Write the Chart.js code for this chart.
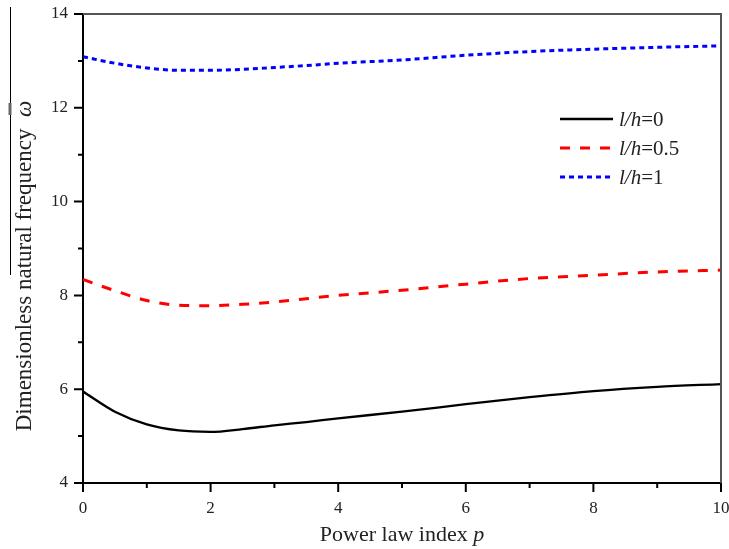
<!DOCTYPE html>
<html>
<head>
<meta charset="utf-8">
<script src="https://cdn.jsdelivr.net/npm/chart.js@4.4.0/dist/chart.umd.min.js"></script>
<style>
  html, body { margin: 0; padding: 0; background: #fff; }
  #wrap { width: 729px; height: 549px; position: relative; }
</style>
</head>
<body>
<div id="wrap"><canvas id="freqChart"></canvas></div>
<script>
// power law index p
const powerIndex = [0, 0.5, 1, 1.5, 2, 2.5, 3, 3.5, 4, 5, 6, 7, 8, 9, 10];

// dimensionless natural frequency for each l/h
const freqLh0 = [5.95, 5.52, 5.25, 5.12, 5.09, 5.15, 5.23, 5.30, 5.38, 5.52, 5.68, 5.83, 5.96, 6.05, 6.11];
const freqLh05 = [8.34, 8.10, 7.89, 7.79, 7.78, 7.81, 7.86, 7.93, 8.00, 8.11, 8.24, 8.36, 8.43, 8.50, 8.54];
const freqLh1 = [13.09, 12.95, 12.85, 12.80, 12.80, 12.82, 12.86, 12.90, 12.95, 13.02, 13.12, 13.20, 13.25, 13.29, 13.32];

const seriesLabels = ['0', '0.5', '1'];
const xTicks = [0, 2, 4, 6, 8, 10];
const yTicks = [4, 6, 8, 10, 12, 14];

const SERIF = '"Liberation Serif", "DejaVu Serif", serif';

const toPoints = (ys) => ys.map((v, i) => ({ x: powerIndex[i], y: v }));

// draws "normal" + "italic" text pieces one after another, centred on cx
const drawMixed = (ctx, parts, cx, cy, size) => {
    const widths = parts.map(([txt, it]) => {
        ctx.font = (it ? 'italic ' : '') + size + 'px ' + SERIF;
        return ctx.measureText(txt).width;
    });
    let sx = cx - widths.reduce((s, w) => s + w, 0) / 2;
    parts.forEach(([txt, it], i) => {
        ctx.font = (it ? 'italic ' : '') + size + 'px ' + SERIF;
        ctx.fillText(txt, sx, cy);
        sx += widths[i];
    });
};

// frame, major/minor ticks, axis titles, legend
const decorations = {
    id: 'decorations',
    afterDraw(chart) {
        const { ctx, chartArea: a, scales: { x, y } } = chart;
        ctx.save();

        // top and right frame
        ctx.strokeStyle = '#555';
        ctx.lineWidth = 2;
        ctx.beginPath();
        ctx.moveTo(a.left, a.top);
        ctx.lineTo(a.right, a.top);
        ctx.lineTo(a.right, a.bottom);
        ctx.stroke();

        // ticks, long on labelled values
        ctx.strokeStyle = '#000';
        ctx.lineWidth = 2;
        ctx.beginPath();
        x.ticks.forEach(t => {
            const px = x.getPixelForValue(t.value);
            const len = xTicks.includes(t.value) ? 9 : 5;
            ctx.moveTo(px, a.bottom);
            ctx.lineTo(px, a.bottom + len);
        });
        y.ticks.forEach(t => {
            const py = y.getPixelForValue(t.value);
            const len = yTicks.includes(t.value) ? 9 : 5;
            ctx.moveTo(a.left, py);
            ctx.lineTo(a.left - len, py);
        });
        ctx.stroke();

        // stray rule at the left edge of the scan
        ctx.lineWidth = 1;
        ctx.beginPath();
        ctx.moveTo(10.5, 7);
        ctx.lineTo(10.5, 275);
        ctx.stroke();
        ctx.strokeStyle = '#666';
        ctx.lineWidth = 3;
        ctx.beginPath();
        ctx.moveTo(10, 103);
        ctx.lineTo(10, 115);
        ctx.stroke();

        ctx.fillStyle = '#222';
        ctx.textAlign = 'left';
        ctx.textBaseline = 'alphabetic';

        // x title
        drawMixed(ctx, [['Power law index ', false], ['p', true]], (a.left + a.right) / 2, 541, 22);

        // y title, rotated
        ctx.translate(31, 266);
        ctx.rotate(-Math.PI / 2);
        drawMixed(ctx, [['Dimensionless natural frequency  ', false], ['\u03c9', true]], 0, 0, 23);
        ctx.setTransform(1, 0, 0, 1, 0, 0);

        // legend
        const lx = 560, ly = 119, gap = 29;
        chart.data.datasets.forEach((ds, i) => {
            const yy = ly + i * gap;
            ctx.strokeStyle = ds.borderColor;
            ctx.lineWidth = ds.borderWidth;
            ctx.setLineDash(ds.borderDash || []);
            ctx.beginPath();
            ctx.moveTo(lx, yy);
            ctx.lineTo(lx + 53, yy);
            ctx.stroke();
            ctx.setLineDash([]);
            ctx.fillStyle = '#222';
            ctx.textBaseline = 'middle';
            ctx.font = 'italic 21px ' + SERIF;
            const p1 = 'l/h';
            ctx.fillText(p1, lx + 59, yy + 1);
            const pw = ctx.measureText(p1).width;
            ctx.font = '21px ' + SERIF;
            ctx.fillText('=' + seriesLabels[i], lx + 59 + pw, yy + 1);
        });

        ctx.restore();
    }
};

const lineStyle = {
    pointRadius: 0,
    fill: false,
    cubicInterpolationMode: 'monotone',
};

new Chart(document.getElementById('freqChart'), {
    type: 'line',
    data: {
        datasets: [
            { ...lineStyle, label: 'l/h=0', data: toPoints(freqLh0), borderColor: '#000000', borderWidth: 2.3 },
            { ...lineStyle, label: 'l/h=0.5', data: toPoints(freqLh05), borderColor: '#ff0000', borderWidth: 3, borderDash: [10, 10] },
            { ...lineStyle, label: 'l/h=1', data: toPoints(freqLh1), borderColor: '#0000ff', borderWidth: 3, borderDash: [5, 4] },
        ],
    },
    options: {
        responsive: true,
        maintainAspectRatio: false,
        animation: false,
        layout: { padding: { top: 14, right: 8, left: 0, bottom: 0 } },
        plugins: {
            legend: { display: false },
            tooltip: { enabled: false },
        },
        scales: {
            x: {
                type: 'linear',
                min: 0,
                max: 10,
                border: { display: true, color: '#000', width: 2 },
                grid: { drawOnChartArea: false, drawTicks: true, tickLength: 9, color: 'rgba(0,0,0,0)' },
                ticks: {
                    stepSize: 1,
                    padding: 6,
                    color: '#222',
                    font: { family: SERIF, size: 17 },
                    maxRotation: 0,
                    autoSkip: false,
                    callback: (v) => (xTicks.includes(v) ? String(v) : ''),
                },
                afterFit: (scale) => {
                    scale.height = 66;
                    scale.paddingLeft = 0;
                    scale.paddingRight = 0;
                },
            },
            y: {
                min: 4,
                max: 14,
                border: { display: true, color: '#000', width: 2 },
                grid: { drawOnChartArea: false, drawTicks: true, tickLength: 9, color: 'rgba(0,0,0,0)' },
                ticks: {
                    stepSize: 1,
                    padding: 6,
                    color: '#222',
                    font: { family: SERIF, size: 17 },
                    autoSkip: false,
                    callback: (v) => (yTicks.includes(v) ? String(v) : ''),
                },
                afterFit: (scale) => {
                    scale.width = 83;
                    scale.paddingTop = 0;
                    scale.paddingBottom = 0;
                },
            },
        },
    },
    plugins: [decorations],
});
</script>
</body>
</html>
